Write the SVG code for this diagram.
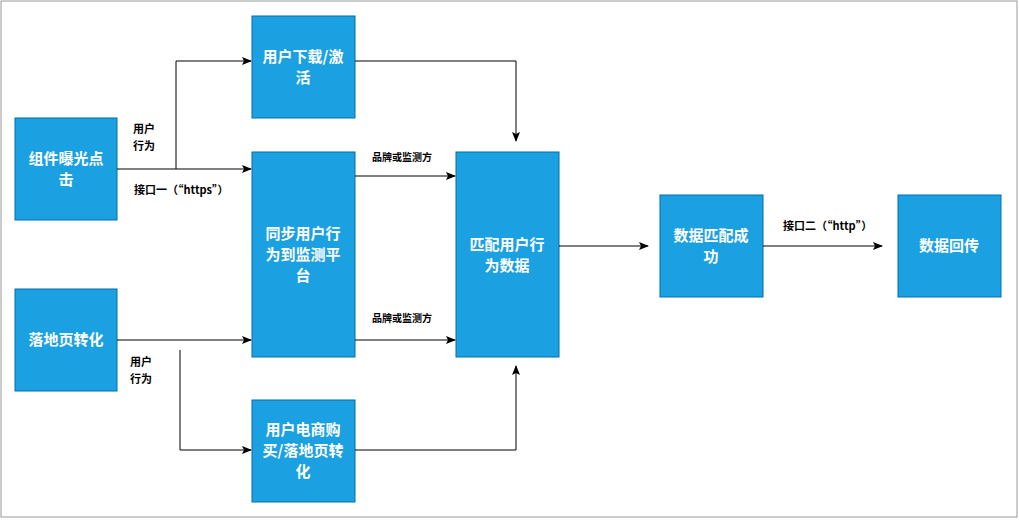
<svg xmlns="http://www.w3.org/2000/svg" width="1019" height="520" viewBox="0 0 1019 520">
<defs>
<marker id="ah" markerWidth="10" markerHeight="8" refX="9" refY="4" orient="auto" markerUnits="userSpaceOnUse"><path d="M0,0 L10,4 L0,8 L2,4 Z" fill="#000"/></marker>
<style>
.n{fill:#1ba1e2;stroke:#006eaf;stroke-width:1}
.t{font-family:"Noto Sans CJK SC","Liberation Sans",sans-serif;font-size:15px;font-weight:bold;fill:#fff;text-anchor:middle}
.c{fill:none;stroke:#000;stroke-width:1;marker-end:url(#ah)}
.l{font-family:"Noto Sans CJK SC","Liberation Sans",sans-serif;font-size:11px;font-weight:bold;fill:#000}
</style>
</defs>
<rect x="0" y="0" width="1019" height="520" fill="#fff"/>
<rect x="1" y="1" width="1016" height="516" fill="none" stroke="#999"/>
<g id="n1"><rect class="n" x="15" y="118" width="102" height="102"/><text class="t" x="66" y="164">组件曝光点</text><text class="t" x="66" y="185">击</text></g>
<g id="n2"><rect class="n" x="15" y="289" width="102" height="102"/><text class="t" x="66" y="345">落地页转化</text></g>
<g id="n3"><rect class="n" x="252" y="16" width="103" height="102"/><text class="t" x="303" y="62">用户下载/激</text><text class="t" x="303" y="83">活</text></g>
<g id="n4"><rect class="n" x="252" y="152" width="103" height="205"/><text class="t" x="303" y="239">同步用户行</text><text class="t" x="303" y="260">为到监测平</text><text class="t" x="303" y="281">台</text></g>
<g id="n5"><rect class="n" x="252" y="400" width="103" height="102"/><text class="t" x="303" y="435">用户电商购</text><text class="t" x="303" y="456">买/落地页转</text><text class="t" x="303" y="477">化</text></g>
<g id="n6"><rect class="n" x="456" y="152" width="103" height="205"/><text class="t" x="507" y="250">匹配用户行</text><text class="t" x="507" y="271">为数据</text></g>
<g id="n7"><rect class="n" x="660" y="195" width="103" height="102"/><text class="t" x="711" y="241">数据匹配成</text><text class="t" x="711" y="262">功</text></g>
<g id="n8"><rect class="n" x="898" y="195" width="103" height="102"/><text class="t" x="949" y="251">数据回传</text></g>
<g id="connectors">
<path class="c" d="M117,169 H251"/>
<path class="c" d="M176,169 V61 H251"/>
<path class="c" d="M117,340 H251"/>
<path class="c" d="M180,350 V450 H251"/>
<path class="c" d="M355,61 H516 V141"/>
<path class="c" d="M355,176 H455"/>
<path class="c" d="M355,340 H455"/>
<path class="c" d="M355,450 H516 V366"/>
<path class="c" d="M559,246 H648"/>
<path class="c" d="M763,246 H882"/>
<text class="l" x="133" y="133">用户</text><text class="l" x="133" y="150">行为</text>
<text class="l" x="134" y="194">接口一（“https”）</text>
<text class="l" x="130" y="366">用户</text><text class="l" x="130" y="383">行为</text>
<text class="l" x="372" y="161" style="font-size:10px">品牌或监测方</text>
<text class="l" x="372" y="322" style="font-size:10px">品牌或监测方</text>
<text class="l" x="783" y="230">接口二（“http”）</text>
</g>
</svg>
